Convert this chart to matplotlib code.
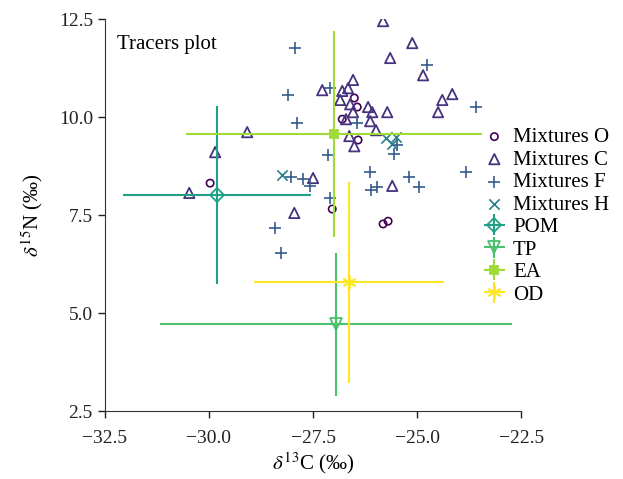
import numpy as np
import matplotlib
matplotlib.use('Agg')
import matplotlib.pyplot as plt

plt.rcParams['font.family'] = ['Liberation Serif', 'DejaVu Serif']
plt.rcParams['mathtext.fontset'] = 'stix'

colors = plt.cm.viridis(np.linspace(0, 1, 8))

# mixtures (d13C, d15N)
mix_o_x = [-26.51, -26.44, -26.80, -26.42, -29.97, -27.04, -25.82, -25.70]
mix_o_y = [10.49, 10.26, 9.95, 9.42, 8.32, 7.66, 7.28, 7.35]

mix_c_x = [-25.82, -25.12, -25.65, -24.86, -26.54, -27.28, -26.80, -26.66, -26.85,
           -26.61, -26.54, -26.71, -26.18, -26.08, -25.72, -26.13, -25.99, -26.63,
           -26.51, -24.16, -24.40, -24.50, -29.08, -29.85, -30.47, -27.50, -27.95,
           -25.60]
mix_c_y = [12.45, 11.89, 11.51, 11.07, 10.95, 10.69, 10.67, 10.74, 10.44,
           10.33, 10.13, 9.95, 10.26, 10.13, 10.13, 9.90, 9.67, 9.52,
           9.26, 10.59, 10.44, 10.13, 9.62, 9.11, 8.07, 8.45, 7.56,
           8.25]

mix_f_x = [-27.93, -28.10, -27.88, -27.09, -24.76, -23.59, -26.44, -27.14, -25.48,
           -25.56, -26.13, -26.11, -25.96, -25.19, -24.95, -23.82, -27.09, -28.02,
           -27.74, -27.57, -28.41, -28.27]
mix_f_y = [11.76, 10.56, 9.85, 10.74, 11.33, 10.26, 9.85, 9.04, 9.29,
           9.06, 8.60, 8.14, 8.22, 8.47, 8.22, 8.60, 7.94, 8.47,
           8.42, 8.25, 7.18, 6.54]

mix_h_x = [-28.24, -25.75, -25.51, -25.60]
mix_h_y = [8.53, 9.47, 9.49, 9.33]

# sources: mean and sd
sources = ['POM', 'TP', 'EA', 'OD']
src_x = [-29.80, -26.95, -27.00, -26.64]
src_y = [8.01, 4.72, 9.57, 5.79]
src_xsd = [2.25, 4.23, 3.56, 2.27]
src_ysd = [2.27, 1.82, 2.62, 2.57]

fig = plt.figure(figsize=(6.23, 4.79), dpi=100)
ax = fig.add_axes([0.168, 0.141, 0.669, 0.819])

ax.scatter(mix_o_x, mix_o_y, s=28, marker='o', facecolors='none',
           edgecolors=colors[0], linewidths=1.2, label='Mixtures O')
ax.scatter(mix_c_x, mix_c_y, s=55, marker='^', facecolors='none',
           edgecolors=colors[1], linewidths=1.3, label='Mixtures C')
ax.scatter(mix_f_x, mix_f_y, s=80, marker='+', color=colors[2],
           linewidths=1.2, label='Mixtures F')
ax.scatter(mix_h_x, mix_h_y, s=55, marker='x', color=colors[3],
           linewidths=1.2, label='Mixtures H')

src_markers = ['D', 'v', 's', (6, 2, 0)]
src_ms = [7, 8, 6, 10]
for i, name in enumerate(sources):
    c = colors[4 + i]
    mfc = c if name == 'EA' else 'none'
    ax.errorbar(src_x[i], src_y[i], xerr=src_xsd[i], yerr=src_ysd[i],
                fmt='', linestyle='none', marker=src_markers[i], color=c,
                mfc=mfc, mec=c, ms=src_ms[i], mew=1.3, elinewidth=1.5,
                capsize=0, label=name)

ax.set_xlim(-32.5, -22.5)
ax.set_ylim(2.5, 12.5)
ax.set_xticks([-32.5, -30.0, -27.5, -25.0, -22.5])
ax.set_yticks([2.5, 5.0, 7.5, 10.0, 12.5])
ax.set_xticklabels(['\u221232.5', '\u221230.0', '\u221227.5', '\u221225.0', '\u221222.5'])
ax.tick_params(labelsize=14, length=5, width=1, colors='#222222')
ax.tick_params(axis='x', pad=8)
for side in ['top', 'right']:
    ax.spines[side].set_visible(False)
for side in ['left', 'bottom']:
    ax.spines[side].set_color('#333333')

ax.set_xlabel(r'$\delta^{13}$C (‰)', fontsize=15, labelpad=3)
ax.set_ylabel(r'$\delta^{15}$N (‰)', fontsize=15, labelpad=10)
ax.text(0.03, 0.935, 'Tracers plot', transform=ax.transAxes, fontsize=15,
        va='center', ha='left')

ax.legend(loc='upper left', bbox_to_anchor=(0.89, 0.745), frameon=False,
          fontsize=15, handlelength=1.0, handletextpad=0.4, labelspacing=0.14,
          borderaxespad=0)

plt.savefig('out.png', dpi=100)
